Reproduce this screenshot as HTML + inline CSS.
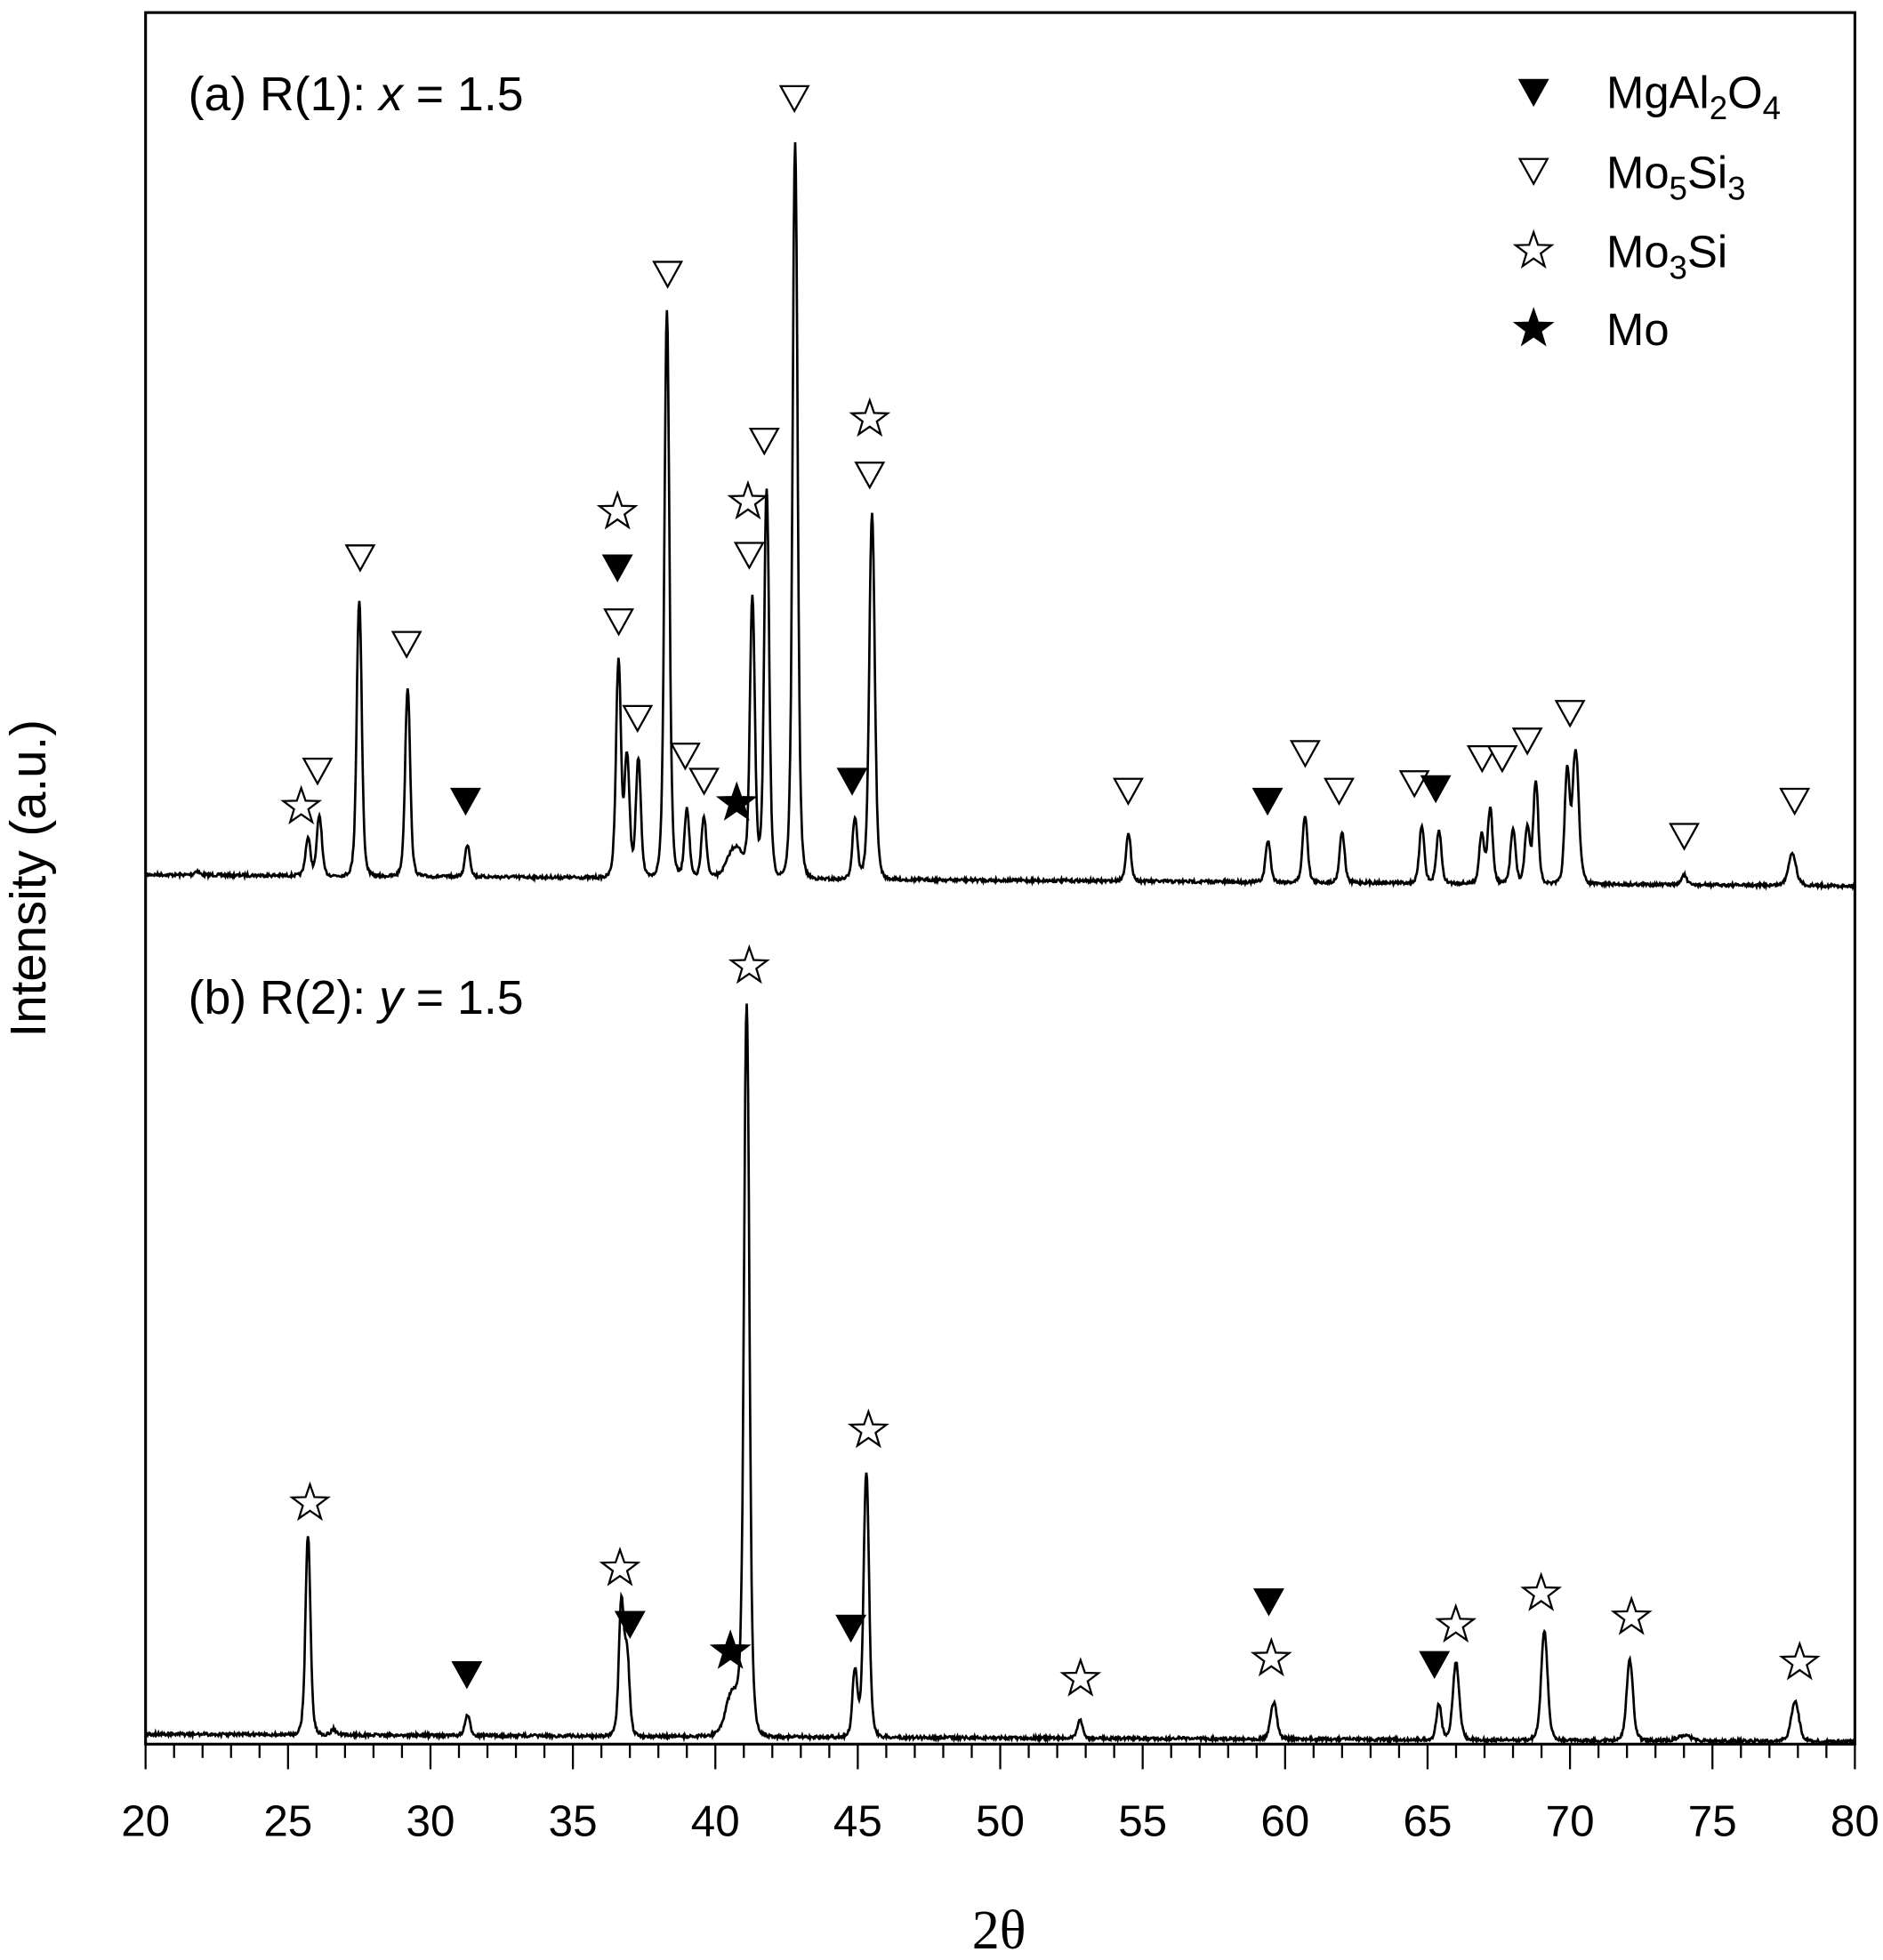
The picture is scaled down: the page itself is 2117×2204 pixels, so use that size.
<!DOCTYPE html>
<html><head><meta charset="utf-8"><style>html,body{margin:0;padding:0;background:#fff}svg{display:block}</style></head>
<body>
<svg id="s" width="2117" height="2204" viewBox="0 0 1500.4 1562" xmlns="http://www.w3.org/2000/svg" font-family="Liberation Sans, sans-serif">
<rect width="1500.4" height="1562" fill="#fff"/>
<g id="traces" fill="none" stroke="#000" stroke-width="1.9"></g>
<rect x="116" y="10" width="1362" height="1380" fill="none" stroke="#000" stroke-width="2.2"/>
<g id="ticks" stroke="#000" stroke-width="1.6"></g>
<g id="tl" font-size="35" text-anchor="middle"></g>
<text x="796" y="1553" font-size="44" text-anchor="middle" font-family="Liberation Serif, serif">2θ</text>
<text transform="translate(36,700) rotate(-90)" font-size="40" text-anchor="middle">Intensity (a.u.)</text>
<text x="150" y="88" font-size="38">(a) R(1): <tspan font-style="italic">x</tspan> = 1.5</text>
<text x="150" y="808" font-size="38">(b) R(2): <tspan font-style="italic">y</tspan> = 1.5</text>
<g id="mk"></g>
<g font-size="36">
<text x="1280" y="86">MgAl<tspan font-size="26" dy="9">2</tspan><tspan dy="-9">O</tspan><tspan font-size="26" dy="9">4</tspan></text>
<text x="1280" y="150">Mo<tspan font-size="26" dy="9">5</tspan><tspan dy="-9">Si</tspan><tspan font-size="26" dy="9">3</tspan></text>
<text x="1280" y="213">Mo<tspan font-size="26" dy="9">3</tspan><tspan dy="-9">Si</tspan></text>
<text x="1280" y="275">Mo</text>
</g>
</svg>
<script>
var NS="http://www.w3.org/2000/svg";
function el(t,a,p){var e=document.createElementNS(NS,t);for(var k in a)e.setAttribute(k,a[k]);p.appendChild(e);return e;}
function X(t){return 116+(t-20)*22.7;}
var seed=7;function rnd(){seed=(seed*16807)%2147483647;return seed/2147483647;}
function trace(base0,base1,peaks){
 var d="";
 for(var i=0;i<=2400;i++){var t=20+i*60/2400;var b=base0+(base1-base0)*(t-20)/60;var y=b+(rnd()-0.5)*2.5;
  for(var j=0;j<peaks.length;j++){var p=peaks[j];var w=p[2]||0.11;var h=b-p[1];var u=(t-p[0])/w;y-=h/(1+u*u*u*u*0.5+u*u*0.7);}
  d+=(i?"L":"M")+X(t).toFixed(1)+" "+y.toFixed(1);}
 el("path",{d:d},document.getElementById("traces"));}
trace(697,706,[[21.8,694,0.1],[25.7,668],[26.1,650],[27.5,478],[29.2,548],[31.3,673],[36.6,528],[36.9,605],[37.3,605],[38.3,248],[39.0,645],[39.6,652],[40.7,675,0.35],[41.3,480],[41.8,390],[42.8,113],[44.9,652],[45.5,410,0.12],[54.5,665],[59.4,670],[60.7,650],[62.0,663],[64.8,658],[65.4,662],[66.9,665],[67.2,645],[68.0,660],[68.5,660],[68.8,623],[69.9,618],[70.2,600,0.14],[74.0,697],[77.8,680,0.17]]);
trace(1382,1388,[[25.7,1224],[26.6,1378],[31.3,1367],[36.7,1280],[36.9,1322],[40.6,1350,0.3],[41.1,805,0.12],[44.9,1332],[45.3,1173,0.12],[52.8,1370],[59.6,1357,0.14],[65.4,1358],[66.0,1325,0.14],[69.1,1300,0.14],[72.1,1323,0.14],[74.0,1383,0.3],[77.9,1356,0.17]]);
var tk=document.getElementById("ticks"),tl=document.getElementById("tl");
for(var t=20;t<=80;t++){var x=X(t),m=t%5==0;el("line",{x1:x,y1:1390,x2:x,y2:m?1410:1401},tk);
 if(m){var e=el("text",{x:x,y:1463},tl);e.textContent=t;}}
var mk=document.getElementById("mk");
function tri(x,y,f){var s=11;el("polygon",{points:(x-s)+","+(y-s*0.85)+" "+(x+s)+","+(y-s*0.85)+" "+x+","+(y+s*0.95),fill:f?"#000":"#fff",stroke:"#000","stroke-width":1.6},mk);}
function star(x,y,f){var p=[];for(var i=0;i<10;i++){var r=i%2?6:15,a=-Math.PI/2+i*Math.PI/5;p.push((x+r*Math.cos(a)).toFixed(1)+","+(y+r*Math.sin(a)).toFixed(1));}
 el("polygon",{points:p.join(" "),fill:f?"#000":"#fff",stroke:"#000","stroke-width":1.6},mk);}
var M=[["s",240,643],["o",253,614],["o",287,444],["o",324,513],["f",371,638],["s",492,408],["f",492,452],["o",493,495],["o",508,572],["o",546,602],["o",561,622],["S",587,640],["s",596,400],["o",597,442],["o",609,351],["o",633,78],["o",532,218],["s",693,334],["o",693,378],["f",679,622],["o",899,630],["f",1010,638],["o",1040,600],["o",1067,630],["o",1127,624],["f",1144,628],["o",1181,604],["o",1197,604],["o",1217,590],["o",1251,568],["o",1342,666],["o",1430,638],
["s",247,1198],["f",372,1334],["s",494,1250],["f",502,1294],["S",582,1316],["s",597,770],["s",692,1140],["f",678,1297],["s",861,1338],["f",1011,1276],["s",1013,1322],["f",1143,1326],["s",1160,1295],["s",1228,1270],["s",1300,1289],["s",1434,1325],
["f",1222,73],["o",1222,136],["s",1222,200],["S",1222,262]];
M.forEach(function(m){if(m[0]=="o")tri(m[1],m[2],0);else if(m[0]=="f")tri(m[1],m[2],1);else star(m[1],m[2],m[0]=="S");});
</script>
</body></html>
